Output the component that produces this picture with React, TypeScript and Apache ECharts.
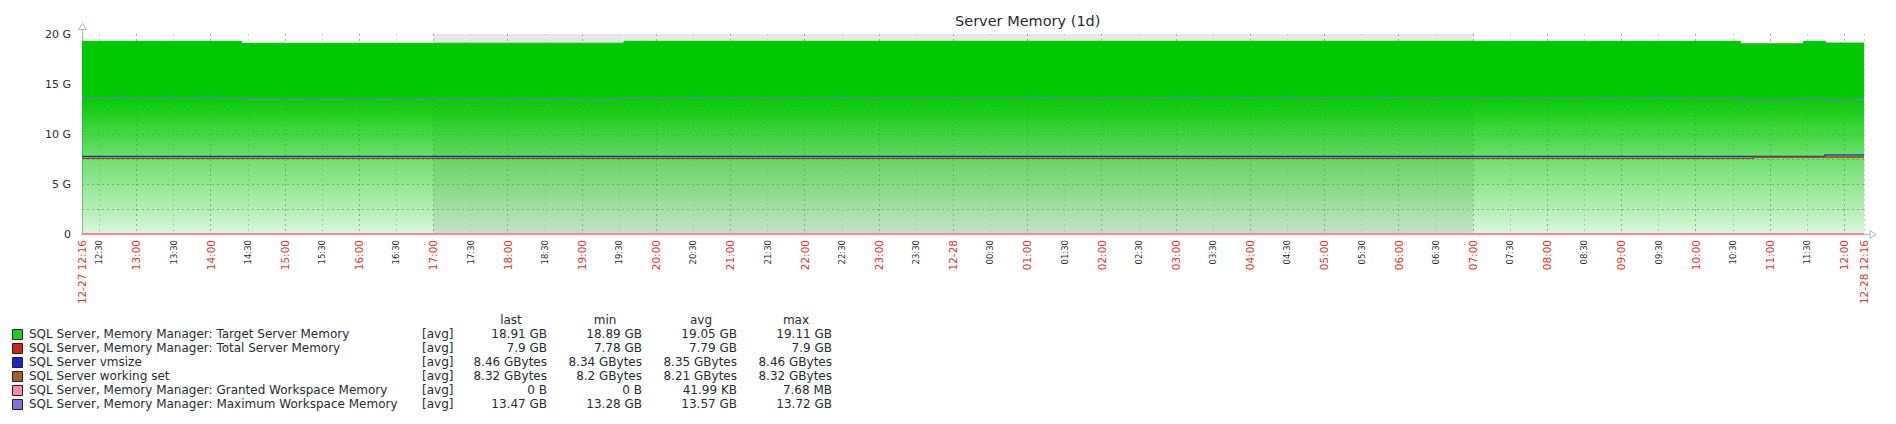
import React, { useEffect, useRef } from 'react';
import * as echarts from 'echarts';

// ---------- data ----------
const TITLE = 'Server Memory (1d)';
const RANGE_START = '12-27 12:16';
const RANGE_END = '12-28 12:16';
const OFF_HOURS_START = '12-27 17:00';
const OFF_HOURS_END = '12-28 07:00';

// Target Server Memory (G)
const targetTimes = ['12-27 12:16', '12-27 14:25', '12-27 19:34', '12-28 10:36', '12-28 11:27', '12-28 11:45', '12-28 12:16'];
const targetValues = [19.27, 19.08, 19.27, 19.02, 19.27, 19.1, 19.1];

// Total Server Memory (G)
const totalTimes = ['12-27 12:16', '12-28 10:47', '12-28 12:16'];
const totalValues = [7.56, 7.69, 7.69];

// vmsize (G)
const vmTimes = ['12-27 12:16', '12-28 11:44', '12-28 12:16'];
const vmValues = [7.77, 7.9, 7.9];

// working set (G)
const wsTimes = ['12-27 12:16', '12-28 10:47', '12-28 12:16'];
const wsValues = [7.58, 7.7, 7.7];

// Granted Workspace Memory (G)
const grantedTimes = ['12-27 12:16', '12-28 12:16'];
const grantedValues = [0, 0];

// Maximum Workspace Memory (G)
const maxWsTimes = [
  '12-27 12:16', '12-27 12:35', '12-27 12:50', '12-27 13:05', '12-27 13:25', '12-27 13:40', '12-27 13:55', '12-27 14:10',
  '12-27 14:25', '12-27 14:45', '12-27 15:00', '12-27 15:20', '12-27 15:40', '12-27 16:00', '12-27 16:20', '12-27 16:40',
  '12-27 17:00', '12-27 17:20', '12-27 17:40', '12-27 18:00', '12-27 18:20', '12-27 18:40', '12-27 19:00', '12-27 19:10',
  '12-27 19:34', '12-27 19:50', '12-27 20:10', '12-27 20:30', '12-27 20:50', '12-27 21:10', '12-27 21:30', '12-27 21:50',
  '12-27 22:10', '12-27 22:30', '12-27 22:50', '12-27 23:10', '12-27 23:30', '12-27 23:50', '12-28 00:10', '12-28 00:30',
  '12-28 00:50', '12-28 01:10', '12-28 01:30', '12-28 01:50', '12-28 02:10', '12-28 02:30', '12-28 02:50', '12-28 03:10',
  '12-28 03:30', '12-28 03:50', '12-28 04:10', '12-28 04:30', '12-28 04:50', '12-28 05:10', '12-28 05:30', '12-28 05:50',
  '12-28 06:10', '12-28 06:30', '12-28 06:50', '12-28 07:10', '12-28 07:30', '12-28 07:50', '12-28 08:10', '12-28 08:30',
  '12-28 08:50', '12-28 09:10', '12-28 09:30', '12-28 09:50', '12-28 10:10', '12-28 10:36', '12-28 11:14', '12-28 11:27',
  '12-28 11:45', '12-28 11:52', '12-28 11:55', '12-28 12:00', '12-28 12:09', '12-28 12:16',
];
const maxWsValues = [
  13.62, 13.66, 13.6, 13.64, 13.61, 13.65, 13.62, 13.59,
  13.47, 13.43, 13.48, 13.45, 13.49, 13.46, 13.43, 13.48,
  13.5, 13.46, 13.43, 13.48, 13.45, 13.49, 13.41, 13.46,
  13.62, 13.59, 13.64, 13.6, 13.63, 13.59, 13.62, 13.6,
  13.64, 13.58, 13.62, 13.6, 13.63, 13.58, 13.62, 13.6,
  13.64, 13.6, 13.59, 13.63, 13.58, 13.62, 13.64, 13.6,
  13.63, 13.61, 13.64, 13.58, 13.63, 13.6, 13.64, 13.61,
  13.59, 13.63, 13.6, 13.63, 13.58, 13.62, 13.6, 13.63,
  13.6, 13.64, 13.61, 13.59, 13.63, 13.4, 13.47, 13.57,
  13.4, 13.3, 13.37, 13.43, 13.47, 13.47,
];

// legend table
const legendNames = [
  'SQL Server, Memory Manager: Target Server Memory',
  'SQL Server, Memory Manager: Total Server Memory',
  'SQL Server vmsize',
  'SQL Server working set',
  'SQL Server, Memory Manager: Granted Workspace Memory',
  'SQL Server, Memory Manager: Maximum Workspace Memory',
];
const legendSwatches = ['#1ecc1e', '#cc2222', '#2222cc', '#a85a2c', '#ff88aa', '#8470e0'];
const legendFunc = ['[avg]', '[avg]', '[avg]', '[avg]', '[avg]', '[avg]'];
const legendHeaders = ['last', 'min', 'avg', 'max'];
const lastValues = ['18.91 GB', '7.9 GB', '8.46 GBytes', '8.32 GBytes', '0 B', '13.47 GB'];
const minValues = ['18.89 GB', '7.78 GB', '8.34 GBytes', '8.2 GBytes', '0 B', '13.28 GB'];
const avgValues = ['19.05 GB', '7.79 GB', '8.35 GBytes', '8.21 GBytes', '41.99 KB', '13.57 GB'];
const maxValues = ['19.11 GB', '7.9 GB', '8.46 GBytes', '8.32 GBytes', '7.68 MB', '13.72 GB'];

// ---------- helpers ----------
const FONT = 'DejaVu Sans';
const TEXT = '#1f2c33';
const RED = '#ec2f2f';
const AXIS = '#a9b4bb';
const LEGEND_FONT = `12px "${FONT}"`;

function toMin(s: string): number {
  const [d, t] = s.split(' ');
  const day = parseInt(d.split('-')[1], 10) - 27;
  const [h, m] = t.split(':').map(Number);
  return day * 1440 + h * 60 + m;
}
function pairs(times: string[], values: number[]) {
  return times.map((t, i) => [toMin(t), values[i]]);
}
const pad = (n: number) => (n < 10 ? '0' + n : '' + n);

const X_MIN = toMin(RANGE_START);
const X_MAX = toMin(RANGE_END);
const tickValues: number[] = [];
for (let v = Math.ceil(X_MIN / 30) * 30; v < X_MAX; v += 30) tickValues.push(v);
const labelValues = [X_MIN, ...tickValues, X_MAX];

const GRID = { left: 82, top: 34, right: 32, bottom: 190 };

export default function App() {
  const ref = useRef<HTMLDivElement>(null);
  useEffect(() => {
    if (!ref.current) return;
    const chart = echarts.init(ref.current, null, { renderer: 'svg' });
    const W = 1896;
    const gx0 = GRID.left;
    const gx1 = W - GRID.right;
    const gy0 = GRID.top;
    const gy1 = 424 - GRID.bottom;

    const graphics: any[] = [
      // y axis arrow
      { type: 'line', shape: { x1: gx0 + 0.5, y1: gy0 - 5, x2: gx0 + 0.5, y2: gy0 }, style: { stroke: AXIS, lineWidth: 1 }, z: 10 },
      { type: 'polygon', shape: { points: [[gx0 - 3.5, gy0 - 4.5], [gx0 + 4.5, gy0 - 4.5], [gx0 + 0.5, gy0 - 10.5]] }, style: { stroke: AXIS, fill: '#fff', lineWidth: 1 }, z: 10 },
      // x axis arrow
      { type: 'line', shape: { x1: gx1, y1: gy1 + 0.5, x2: gx1 + 6, y2: gy1 + 0.5 }, style: { stroke: AXIS, lineWidth: 1 }, z: 10 },
      { type: 'polygon', shape: { points: [[gx1 + 6, gy1 - 3.5], [gx1 + 6, gy1 + 4.5], [gx1 + 12, gy1 + 0.5]] }, style: { stroke: AXIS, fill: '#fff', lineWidth: 1 }, z: 10 },
    ];

    // legend table
    const rowY0 = 334;
    const rowH = 13.9;
    const colRight = [547, 642, 737, 832];
    const headCenter = [511, 605, 701, 796];
    legendHeaders.forEach((h, i) => {
      graphics.push({ type: 'text', x: headCenter[i], y: 320, style: { text: h, fill: TEXT, font: LEGEND_FONT, align: 'center', verticalAlign: 'middle' } });
    });
    const cols = [lastValues, minValues, avgValues, maxValues];
    legendNames.forEach((name, i) => {
      const cy = rowY0 + i * rowH;
      graphics.push({ type: 'rect', shape: { x: 12.5, y: Math.round(cy - 5) + 0.5, width: 10, height: 10 }, style: { fill: legendSwatches[i], stroke: '#222', lineWidth: 1 } });
      graphics.push({ type: 'text', x: 29, y: cy, style: { text: name, fill: TEXT, font: LEGEND_FONT, verticalAlign: 'middle' } });
      graphics.push({ type: 'text', x: 422, y: cy, style: { text: legendFunc[i], fill: TEXT, font: LEGEND_FONT, verticalAlign: 'middle' } });
      cols.forEach((col, j) => {
        graphics.push({ type: 'text', x: colRight[j], y: cy, style: { text: col[i], fill: TEXT, font: LEGEND_FONT, align: 'right', verticalAlign: 'middle' } });
      });
    });

    const lineSeries = (name: string, times: string[], values: number[], color: string, width = 1) => ({
      name,
      type: 'line',
      step: 'end',
      symbol: 'none',
      data: pairs(times, values),
      lineStyle: { color, width },
      itemStyle: { color },
      z: 3,
    });

    const option: any = {
      animation: false,
      title: {
        text: TITLE,
        left: 950,
        top: 8,
        textStyle: { fontFamily: FONT, fontSize: 14.5, fontWeight: 'normal', color: TEXT },
      },
      grid: { ...GRID, containLabel: false },
      xAxis: {
        type: 'value',
        min: X_MIN,
        max: X_MAX,
        z: 1,
        axisLine: { show: true, lineStyle: { color: AXIS, width: 1 } },
        axisTick: { show: false, customValues: [...tickValues, X_MAX] },
        splitLine: {
          show: true,
          lineStyle: { color: ['#c9d1d5', '#9fa9af'], type: [2, 3], width: 1 },
        },
        axisLabel: {
          customValues: labelValues,
          rotate: 90,
          margin: 6,
          formatter: (v: number) => {
            if (v === X_MIN) return `{d|${RANGE_START}}`;
            if (v === X_MAX) return `{d|${RANGE_END}}`;
            const m = ((v % 1440) + 1440) % 1440;
            if (m === 0) return '{d|12-28}';
            const h = Math.floor(m / 60);
            const mm = m % 60;
            if (mm === 0) return `{d|${pad(h)}:00}`;
            return `{m|${pad(h)}:${pad(mm)}}`;
          },
          rich: {
            d: { color: RED, fontFamily: FONT, fontSize: 10.5 },
            m: { color: TEXT, fontFamily: FONT, fontSize: 8.5 },
          },
        },
      },
      yAxis: {
        type: 'value',
        min: 0,
        max: 20,
        interval: 2.5,
        z: 1,
        axisLine: { show: true, lineStyle: { color: AXIS, width: 1 } },
        axisTick: { show: false },
        splitLine: { show: true, showMaxLine: false, lineStyle: { color: '#a7b0b5', type: [2, 3], width: 1 } },
        axisLabel: {
          margin: 11,
          color: TEXT,
          fontFamily: FONT,
          fontSize: 11,
          formatter: (v: number) => (v % 5 === 0 ? (v === 0 ? '0' : `${v} G`) : ''),
        },
      },
      series: [
        {
          type: 'custom',
          z: 0,
          silent: true,
          encode: { x: [0, 1], y: [2, 3] },
          data: [[toMin(OFF_HOURS_START), toMin(OFF_HOURS_END), 20, 0]],
          renderItem: (params: any, api: any) => {
            const a = api.coord([api.value(0), api.value(2)]);
            const b = api.coord([api.value(1), api.value(3)]);
            return {
              type: 'rect',
              shape: { x: a[0], y: a[1], width: b[0] - a[0], height: b[1] - a[1] },
              style: { fill: '#e8e8e8' },
            };
          },
        },
        {
          name: legendNames[0],
          type: 'line',
          step: 'end',
          symbol: 'none',
          z: 2,
          data: pairs(targetTimes, targetValues),
          lineStyle: { color: '#00c800', width: 1 },
          areaStyle: {
            opacity: 1,
            color: new echarts.graphic.LinearGradient(0, 0, 0, 1, [
              { offset: 0, color: 'rgba(0,200,0,1)' },
              { offset: 0.27, color: 'rgba(0,200,0,1)' },
              { offset: 0.6, color: 'rgba(0,200,0,0.58)' },
              { offset: 1, color: 'rgba(0,200,0,0.15)' },
            ]),
          },
        },
        lineSeries(legendNames[1], totalTimes, totalValues, '#c80000'),
        lineSeries(legendNames[2], vmTimes, vmValues, '#0000c8'),
        lineSeries(legendNames[3], wsTimes, wsValues, '#b0501c'),
        lineSeries(legendNames[4], grantedTimes, grantedValues, '#ff80a8', 2),
        lineSeries(legendNames[5], maxWsTimes, maxWsValues, '#7b68ee'),
      ],
      graphic: graphics,
    };
    chart.setOption(option);
    return () => chart.dispose();
  }, []);
  return <div ref={ref} style={{ position: 'absolute', left: 0, top: 0, width: 1896, height: 424 }} />;
}
